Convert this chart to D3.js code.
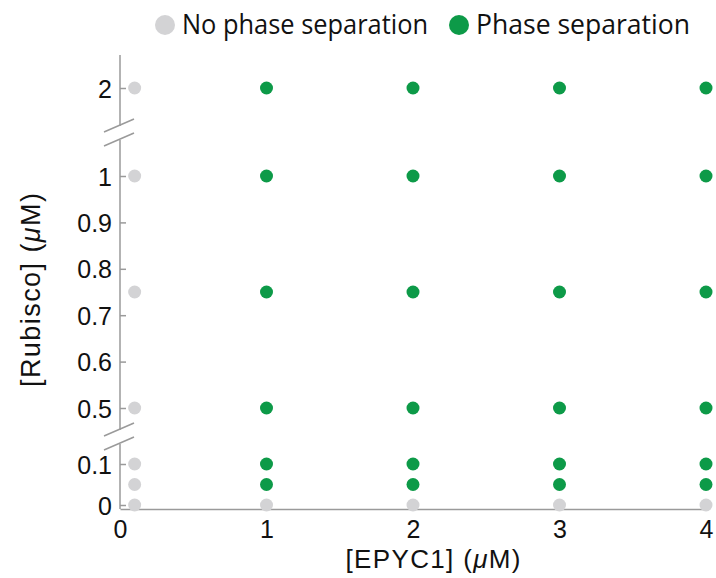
<!DOCTYPE html>
<html>
<head>
<meta charset="utf-8">
<script src="https://cdn.jsdelivr.net/npm/d3@7"></script>
<style>
  body { margin: 0; background: #fff; }
  svg { display: block; }
  .tick text { font-family: "Liberation Sans", Arial, sans-serif; font-size: 25px; fill: #111; }
  .tick line { stroke: #9a9a9a; stroke-width: 1.5; }
</style>
</head>
<body>
<svg width="716" height="578"></svg>
<script>
// EPYC1 concentrations (uM), columns; first column drawn just off the axis
const epyc = [0.1, 1, 2, 3, 4];
// Rubisco concentrations (uM), rows
const rubisco = [0, 0.05, 0.1, 0.5, 0.75, 1, 2];
// 1 = phase separation, 0 = none; one row per rubisco value, one entry per epyc column
const phase = [
  [0, 0, 0, 0, 0],
  [0, 1, 1, 1, 1],
  [0, 1, 1, 1, 1],
  [0, 1, 1, 1, 1],
  [0, 1, 1, 1, 1],
  [0, 1, 1, 1, 1],
  [0, 1, 1, 1, 1]
];
const xTicks = [0, 1, 2, 3, 4];
const yTicksLow = [0, 0.1];
const yTicksMid = [0.5, 0.6, 0.7, 0.8, 0.9, 1];
const yTicksTop = [2];
const legendLabels = ["No phase separation", "Phase separation"];

const GREEN = "#0d9a48", GRAY = "#d3d3d5", AXIS = "#9a9a9a";

const svg = d3.select("svg");

const x = d3.scaleLinear().domain([0, 4]).range([120, 706]);
// broken axis: three segments joined into one piecewise scale
const y = d3.scaleLinear()
  .domain([0, 0.1, 0.5, 1, 2])
  .range([505, 464, 408, 176, 88]);

const axisX = 120, baseY = 509;

// y axis segments (ticks point inward)
function ySeg(vals, fmt) {
  const g = svg.append("g").attr("transform", `translate(${axisX},0)`)
    .call(d3.axisLeft(y).tickValues(vals).tickSize(-6).tickPadding(8).tickFormat(fmt));
  g.select(".domain").remove();
  g.selectAll(".tick text").attr("dy", "0.36em");
  return g;
}
ySeg(yTicksLow, d => d === 0 ? "0" : d3.format(".1f")(d));
ySeg(yTicksMid, d => d === 1 ? "1" : d3.format(".1f")(d));
ySeg(yTicksTop, d3.format("d"));

// axis line pieces
const pieces = [[55, 126], [140, 430], [444, baseY]];
svg.selectAll("line.yline").data(pieces).join("line")
  .attr("class", "yline")
  .attr("x1", axisX).attr("x2", axisX)
  .attr("y1", d => d[0]).attr("y2", d => d[1])
  .attr("stroke", AXIS).attr("stroke-width", 1.5);

// break marks
const breaks = [126, 140, 430, 444];
svg.selectAll("line.brk").data(breaks).join("line")
  .attr("class", "brk")
  .attr("x1", axisX - 16).attr("x2", axisX + 14)
  .attr("y1", d => d + 6).attr("y2", d => d - 7)
  .attr("stroke", AXIS).attr("stroke-width", 1.5);

// x axis (no tick marks)
const gx = svg.append("g").attr("transform", `translate(0,${baseY})`)
  .call(d3.axisBottom(x).tickValues(xTicks).tickSize(0).tickPadding(11).tickFormat(d3.format("d")));
gx.select(".domain").attr("stroke", AXIS).attr("stroke-width", 1.5);

// points
const pts = [];
rubisco.forEach((r, i) => epyc.forEach((e, j) => pts.push({ e, r, p: phase[i][j] })));
svg.append("g").selectAll("circle").data(pts).join("circle")
  .attr("cx", d => x(d.e)).attr("cy", d => y(d.r)).attr("r", 6.5)
  .attr("fill", d => d.p ? GREEN : GRAY);

// axis titles
const yt = svg.append("text")
  .attr("transform", "translate(40,290) rotate(-90)")
  .attr("text-anchor", "middle")
  .attr("textLength", 194).attr("lengthAdjust", "spacing")
  .style("font-family", "Liberation Sans, Arial, sans-serif").style("font-size", "27px").attr("fill", "#111");
yt.append("tspan").text("[Rubisco] (");
yt.append("tspan").style("font-style", "italic").text("\u03BC");
yt.append("tspan").text("M)");

const xt = svg.append("text")
  .attr("x", 433).attr("y", 568)
  .attr("text-anchor", "middle")
  .attr("textLength", 175).attr("lengthAdjust", "spacing")
  .style("font-family", "Liberation Sans, Arial, sans-serif").style("font-size", "26px").attr("fill", "#111");
xt.append("tspan").text("[EPYC1] (");
xt.append("tspan").style("font-style", "italic").text("\u03BC");
xt.append("tspan").text("M)");

// legend
const legend = [
  { label: legendLabels[0], color: GRAY, cx: 165, tx: 182, w: 246 },
  { label: legendLabels[1], color: GREEN, cx: 459, tx: 476, w: 214 }
];
const lg = svg.append("g").selectAll("g").data(legend).join("g");
lg.append("circle").attr("cx", d => d.cx).attr("cy", 25).attr("r", 10).attr("fill", d => d.color);
lg.append("text")
  .attr("x", d => d.tx).attr("y", 34)
  .attr("textLength", d => d.w).attr("lengthAdjust", "spacingAndGlyphs")
  .style("font-family", "Open Sans, sans-serif").style("font-size", "27px").attr("fill", "#111")
  .text(d => d.label);
</script>
</body>
</html>
